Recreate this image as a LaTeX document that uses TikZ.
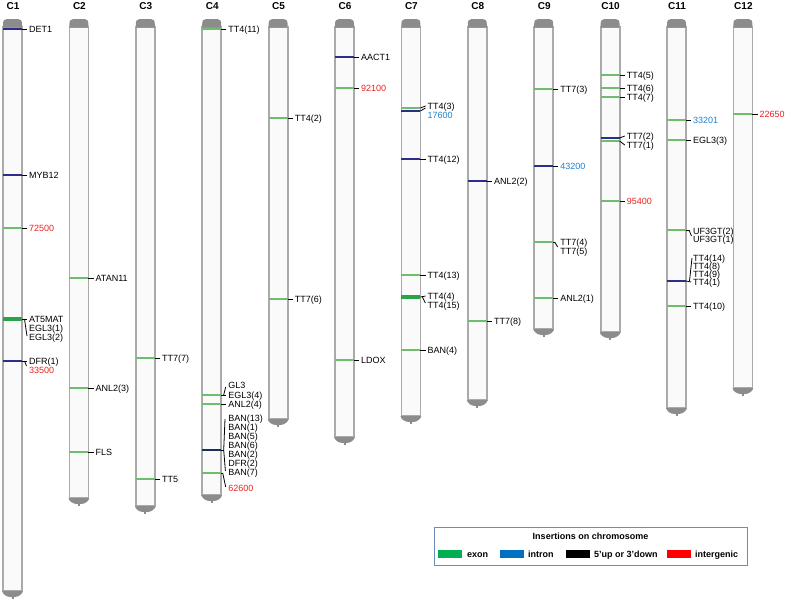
\documentclass[tikz,border=0pt]{standalone}
\usepackage{fontspec}
\setmainfont{Liberation Sans}
\definecolor{chromline}{RGB}{170,170,170}
\definecolor{chromfill}{RGB}{250,250,250}
\definecolor{capgray}{RGB}{140,140,140}
\definecolor{mkgreen}{RGB}{110,190,110}
\definecolor{mkgreendk}{RGB}{40,165,70}
\definecolor{mknavy}{RGB}{45,45,140}
\definecolor{mkban}{RGB}{25,45,95}
\definecolor{labred}{RGB}{235,35,35}
\definecolor{labblue}{RGB}{30,130,210}
\definecolor{legbox}{RGB}{110,140,185}
\definecolor{legg}{RGB}{0,176,80}
\definecolor{legb}{RGB}{0,112,192}
\definecolor{legr}{RGB}{255,0,0}
\tikzset{
  lab/.style={anchor=base west, inner sep=0pt, font=\fontsize{9}{9}\selectfont},
  chtitle/.style={anchor=base, inner sep=0pt, font=\fontsize{10}{10}\selectfont\bfseries},
  legtext/.style={anchor=base west, inner sep=0pt, font=\fontsize{9}{9}\selectfont\bfseries},
  tick/.style={black, line width=0.8pt},
  swatch/.style={inner sep=0pt, minimum width=24pt, minimum height=7.5pt, anchor=west}
}
\newcommand\chrom[2]{%
  \pgfmathsetmacro\X{12.5+66.4*(#1-1)}%
  \pgfmathsetmacro\B{#2-6}%
  \draw[chromline, line width=1.8pt, fill=chromfill] (\X-9.5,27) rectangle (\X+9.5,\B);
  \fill[capgray] (\X-9.5,27.5) -- (\X-9.5,24) .. controls (\X-9.5,20.5) and (\X-8,19) .. (\X-5.5,19) -- (\X+5.5,19) .. controls (\X+8,19) and (\X+9.5,20.5) .. (\X+9.5,24) -- (\X+9.5,27.5) -- cycle;
  \fill[capgray] (\X-10.4,\B) -- (\X+10.4,\B) .. controls (\X+10,\B+3) and (\X+6,#2) .. (\X+2,#2) -- (\X-2,#2) .. controls (\X-6,#2) and (\X-10,\B+3) .. (\X-10.4,\B) -- cycle;
  \fill[capgray] (\X-1,#2-0.5) rectangle (\X+1,#2+2);
  \node[chtitle] (t#1) at (\X+0.5,9.5) {C#1};
}
\newcommand\gm[4]{%
  \pgfmathsetmacro\X{12.5+66.4*(#1-1)}%
  \draw[line width=#4, #3] (\X-9.5,#2) -- (\X+9.5,#2);
}
\newcommand\lbl[5]{%
  \pgfmathsetmacro\X{12.5+66.4*(#2-1)}%
  \node[lab, text=#4] (#1) at (\X+16.5,#3+3.2) {#5};
}
\newcommand\tk[3]{%
  \pgfmathsetmacro\X{12.5+66.4*(#1-1)}%
  \draw[tick] (\X+9.5,#2) -- ([shift={(-1.8pt,3.2pt)}]#3.base west);
}
\newcommand\brk[5]{%
  \pgfmathsetmacro\X{12.5+66.4*(#1-1)}%
  \draw[tick] (\X+9.5+#2,#3) -- (\X+9.5+#4,#5);
}
\begin{document}
\begin{tikzpicture}[x=1pt,y=-1pt]
\useasboundingbox (0,0) rectangle (787,605);
\fill[white] (0,0) rectangle (787,605);
% chromosomes
\chrom{1}{597}
\chrom{2}{504}
\chrom{3}{512}
\chrom{4}{501}
\chrom{5}{425}
\chrom{6}{443}
\chrom{7}{422}
\chrom{8}{406}
\chrom{9}{335}
\chrom{10}{338}
\chrom{11}{414}
\chrom{12}{394}
% ---- C1
\gm{1}{29}{mknavy}{1.4pt}
\lbl{det1}{1}{29}{black}{DET1} \tk{1}{29}{det1}
\gm{1}{175}{mknavy}{1.4pt}
\lbl{myb12}{1}{175}{black}{MYB12} \tk{1}{175}{myb12}
\gm{1}{228}{mkgreen}{1.3pt}
\lbl{c72500}{1}{228}{labred}{72500} \tk{1}{228}{c72500}
\gm{1}{319}{mkgreendk}{3.5pt}
\lbl{at5mat}{1}{319}{black}{AT5MAT} \tk{1}{319}{at5mat}
\lbl{egl31}{1}{328}{black}{EGL3(1)}
\lbl{egl32}{1}{337}{black}{EGL3(2)}
\brk{1}{2.5}{319}{5}{336}
\gm{1}{361}{mknavy}{1.4pt}
\lbl{dfr1}{1}{361}{black}{DFR(1)} \tk{1}{361}{dfr1}
\lbl{c33500}{1}{370}{labred}{33500}
\brk{1}{2.5}{361}{4.5}{366}
% ---- C2
\gm{2}{278}{mkgreen}{1.3pt}
\lbl{atan11}{2}{278}{black}{ATAN11} \tk{2}{278}{atan11}
\gm{2}{388}{mkgreen}{1.3pt}
\lbl{anl23}{2}{388}{black}{ANL2(3)} \tk{2}{388}{anl23}
\gm{2}{452}{mkgreen}{1.3pt}
\lbl{fls}{2}{452}{black}{FLS} \tk{2}{452}{fls}
% ---- C3
\gm{3}{358}{mkgreen}{1.3pt}
\lbl{tt77}{3}{358}{black}{TT7(7)} \tk{3}{358}{tt77}
\gm{3}{479}{mkgreen}{1.3pt}
\lbl{tt5}{3}{479}{black}{TT5} \tk{3}{479}{tt5}
% ---- C4
\gm{4}{29}{mkgreen}{1.3pt}
\lbl{tt411}{4}{29}{black}{TT4(11)} \tk{4}{29}{tt411}
\lbl{gl3}{4}{385}{black}{GL3}
\gm{4}{395}{mkgreen}{1.3pt}
\lbl{egl34}{4}{395}{black}{EGL3(4)} \tk{4}{395}{egl34}
\brk{4}{2.5}{395}{4.5}{387}
\gm{4}{404}{mkgreen}{1.3pt}
\lbl{anl24}{4}{404}{black}{ANL2(4)} \tk{4}{404}{anl24}
\gm{4}{450}{mkban}{2.8pt}
\lbl{ban13}{4}{418}{black}{BAN(13)}
\lbl{ban1}{4}{427}{black}{BAN(1)}
\lbl{ban5}{4}{436}{black}{BAN(5)}
\lbl{ban6}{4}{445}{black}{BAN(6)}
\lbl{ban2}{4}{454}{black}{BAN(2)}
\lbl{dfr2}{4}{463}{black}{DFR(2)}
\lbl{ban7}{4}{472}{black}{BAN(7)}
\brk{4}{0}{450}{2.5}{450}
\brk{4}{3.8}{419}{2.5}{450}
\brk{4}{2.5}{450}{4.2}{471}
\gm{4}{473}{mkgreen}{1.3pt}
\lbl{c62600}{4}{488}{labred}{62600}
\brk{4}{0}{473}{1.5}{473}
\brk{4}{1.5}{473}{4.5}{487}
% ---- C5
\gm{5}{118}{mkgreen}{1.3pt}
\lbl{tt42}{5}{118}{black}{TT4(2)} \tk{5}{118}{tt42}
\gm{5}{299}{mkgreen}{1.3pt}
\lbl{tt76}{5}{299}{black}{TT7(6)} \tk{5}{299}{tt76}
% ---- C6
\gm{6}{57}{mknavy}{1.4pt}
\lbl{aact1}{6}{57}{black}{AACT1} \tk{6}{57}{aact1}
\gm{6}{88}{mkgreen}{1.3pt}
\lbl{c92100}{6}{88}{labred}{92100} \tk{6}{88}{c92100}
\gm{6}{360}{mkgreen}{1.3pt}
\lbl{ldox}{6}{360}{black}{LDOX} \tk{6}{360}{ldox}
% ---- C7
\gm{7}{108}{mkgreen}{1.3pt}
\gm{7}{111}{mknavy}{1.4pt}
\lbl{tt43}{7}{106}{black}{TT4(3)} \tk{7}{108}{tt43}
\lbl{c17600}{7}{115}{labblue}{17600}
\brk{7}{0}{111}{5}{108}
\gm{7}{159}{mknavy}{1.4pt}
\lbl{tt412}{7}{159}{black}{TT4(12)} \tk{7}{159}{tt412}
\gm{7}{275}{mkgreen}{1.3pt}
\lbl{tt413}{7}{275}{black}{TT4(13)} \tk{7}{275}{tt413}
\gm{7}{297}{mkgreendk}{3.2pt}
\lbl{tt44}{7}{296}{black}{TT4(4)} \tk{7}{297}{tt44}
\lbl{tt415}{7}{305}{black}{TT4(15)}
\brk{7}{2}{297}{5}{303}
\gm{7}{350}{mkgreen}{1.3pt}
\lbl{ban4}{7}{350}{black}{BAN(4)} \tk{7}{350}{ban4}
% ---- C8
\gm{8}{181}{mknavy}{1.4pt}
\lbl{anl22}{8}{181}{black}{ANL2(2)} \tk{8}{181}{anl22}
\gm{8}{321}{mkgreen}{1.3pt}
\lbl{tt78}{8}{321}{black}{TT7(8)} \tk{8}{321}{tt78}
% ---- C9
\gm{9}{89}{mkgreen}{1.3pt}
\lbl{tt73}{9}{89}{black}{TT7(3)} \tk{9}{89}{tt73}
\gm{9}{166}{mknavy}{1.4pt}
\lbl{c43200}{9}{166}{labblue}{43200} \tk{9}{166}{c43200}
\gm{9}{242}{mkgreen}{1.3pt}
\lbl{tt74}{9}{242}{black}{TT7(4)}
\lbl{tt75}{9}{251}{black}{TT7(5)}
\brk{9}{0}{242}{1.5}{242}
\brk{9}{1.5}{242}{4.5}{247}
\gm{9}{298}{mkgreen}{1.3pt}
\lbl{anl21}{9}{298}{black}{ANL2(1)} \tk{9}{298}{anl21}
% ---- C10
\gm{10}{75}{mkgreen}{1.3pt}
\lbl{tt45}{10}{75}{black}{TT4(5)} \tk{10}{75}{tt45}
\gm{10}{88}{mkgreen}{1.3pt}
\lbl{tt46}{10}{88}{black}{TT4(6)} \tk{10}{88}{tt46}
\gm{10}{97}{mkgreen}{1.3pt}
\lbl{tt47}{10}{97}{black}{TT4(7)} \tk{10}{97}{tt47}
\gm{10}{138}{mknavy}{1.4pt}
\gm{10}{141}{mkgreen}{1.2pt}
\lbl{tt72}{10}{136}{black}{TT7(2)} \tk{10}{138}{tt72}
\lbl{tt71}{10}{145}{black}{TT7(1)} \tk{10}{141}{tt71}
\gm{10}{201}{mkgreen}{1.3pt}
\lbl{c95400}{10}{201}{labred}{95400} \tk{10}{201}{c95400}
% ---- C11
\gm{11}{120}{mkgreen}{1.3pt}
\lbl{c33201}{11}{120}{labblue}{33201} \tk{11}{120}{c33201}
\gm{11}{140}{mkgreen}{1.3pt}
\lbl{egl33}{11}{140}{black}{EGL3(3)} \tk{11}{140}{egl33}
\gm{11}{230}{mkgreen}{1.3pt}
\lbl{uf3gt2}{11}{231}{black}{UF3GT(2)}
\lbl{uf3gt1}{11}{239}{black}{UF3GT(1)}
\brk{11}{0}{230}{3}{230}
\brk{11}{3}{230}{5.5}{236}
\lbl{tt414}{11}{258}{black}{TT4(14)}
\lbl{tt48}{11}{266}{black}{TT4(8)}
\lbl{tt49}{11}{274}{black}{TT4(9)}
\gm{11}{281}{mknavy}{1.5pt}
\lbl{tt41}{11}{282}{black}{TT4(1)} \tk{11}{281}{tt41}
\brk{11}{3.5}{281}{6}{258}
\gm{11}{306}{mkgreen}{1.3pt}
\lbl{tt410}{11}{306}{black}{TT4(10)} \tk{11}{306}{tt410}
% ---- C12
\gm{12}{114}{mkgreen}{1.3pt}
\lbl{c22650}{12}{114}{labred}{22650} \tk{12}{114}{c22650}
% ---- legend
\node[draw=legbox, line width=0.8pt, inner sep=0pt, minimum width=313pt, minimum height=38pt, anchor=north west] (legend) at (434,527) {};
\node[anchor=base, inner sep=0pt, font=\fontsize{9}{9}\selectfont\bfseries] (legtitle) at (590.5,539.3) {Insertions on chromosome};
\node[swatch, fill=legg] (swg) at (438,554) {};
\node[legtext] (lexon) at (467,557.3) {exon};
\node[swatch, fill=legb] (swb) at (500,554) {};
\node[legtext] (lintron) at (528,557.3) {intron};
\node[swatch, fill=black] (swk) at (566,554) {};
\node[legtext] (lup) at (594,557.3) {5’up or 3’down};
\node[swatch, fill=legr] (swr) at (667,554) {};
\node[legtext] (linter) at (695,557.3) {intergenic};
\end{tikzpicture}
\end{document}
